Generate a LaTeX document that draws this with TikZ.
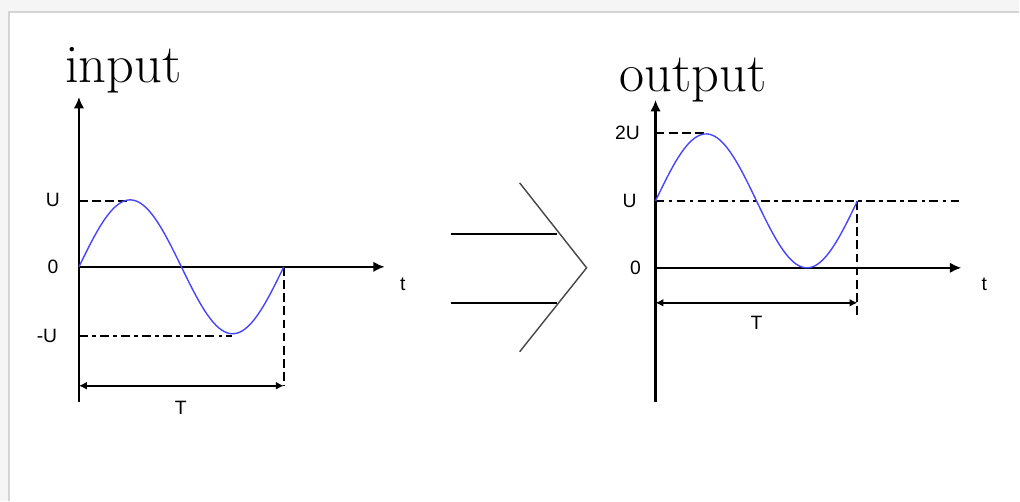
\documentclass[tikz,border=0pt]{standalone}
\usepackage{fontspec}
\newfontfamily\labelfont{Liberation Sans}
\usepackage{tikz}
\usetikzlibrary{arrows.meta, positioning}
\definecolor{pagegray}{RGB}{245,245,245}
\definecolor{framegray}{RGB}{212,212,212}
\definecolor{wave}{RGB}{70,70,255}
\definecolor{chevron}{RGB}{70,70,70}

\begin{document}
\begin{tikzpicture}[x=0.02cm, y=-0.02cm,
    axisline/.style={line width=1.3pt, -{Latex[length=6.5pt,width=6pt]}},
    refline/.style={line width=1.1pt, dash pattern=on 5pt off 2.5pt},
    dotline/.style={line width=1.1pt, dash pattern=on 5pt off 2.5pt on 2pt off 2.5pt},
    span/.style={line width=1.3pt, {Latex[length=4.5pt,width=4.5pt]}-{Latex[length=4.5pt,width=4.5pt]}},
    sinewave/.style={wave, line width=0.8pt},
    lbl/.style={font=\labelfont\fontsize{11}{13}\selectfont, inner sep=0pt},
    title/.style={font=\fontsize{31}{36}\selectfont, inner sep=0pt, anchor=base west}]
  % page and frame
  \fill[pagegray] (0,0) rectangle (1020,501);
  \fill[white] (9,12) rectangle (1020,501);
  \draw[framegray, line width=0.8pt] (9,501) -- (9,12) -- (1020,12);

  % input
  \node[title] (intitle) at (65,83) {input};
  \coordinate (inO) at (79,267);
  \coordinate (inTop) at (79,97);
  \coordinate (inBot) at (79,402);
  \coordinate (inX) at (385,267);
  \coordinate (inUa) at (79,201);
  \coordinate (inPk) at (130,201);
  \coordinate (inNa) at (79,336);
  \coordinate (inTr) at (232,336);
  \coordinate (inEnd) at (284,267);
  \coordinate (inTa) at (79,386);
  \coordinate (inTb) at (284,386);
  \draw[line width=1.3pt] (inBot) -- (inO);
  \draw[axisline] (inO) -- (inTop);
  \draw[axisline] (inO) -- (inX);
  \draw[refline] (inUa) -- (inPk);
  \draw[dotline] (inNa) -- (inTr);
  \draw[refline] (inEnd) -- (inTb);
  \draw[span] (inTa) -- (inTb);
  \draw[sinewave] plot[domain=0:360, samples=80] ({79+\x/360*205},{267-67*sin(\x)});
  \node[lbl] (inU) at (53,200) {U};
  \node[lbl] (inZero) at (53,267) {0};
  \node[lbl] (inMinusU) at (47,336) {-U};
  \node[lbl] (inT) at (403,285) {t};
  \node[lbl] (inPeriod) at (181,408) {T};

  % arrow between
  \coordinate (midA) at (451,234);
  \coordinate (midB) at (557,234);
  \coordinate (midC) at (451,303);
  \coordinate (midD) at (557,303);
  \coordinate (chTop) at (520,183);
  \coordinate (chTip) at (587,268);
  \coordinate (chBot) at (520,352);
  \draw[line width=1.3pt] (midA) -- (midB);
  \draw[line width=1.3pt] (midC) -- (midD);
  \draw[chevron, line width=0.8pt] (chTop) -- (chTip) -- (chBot);

  % output
  \node[title] (outtitle) at (620,92) {output};
  \coordinate (outO) at (656,268);
  \coordinate (outTop) at (656,100);
  \coordinate (outBot) at (656,402);
  \coordinate (outX) at (962,268);
  \coordinate (outDa) at (656,133);
  \coordinate (outPk) at (708,133);
  \coordinate (outUa) at (656,201);
  \coordinate (outUb) at (962,201);
  \coordinate (outEnd) at (858,201);
  \coordinate (outDrop) at (858,317);
  \coordinate (outTa) at (656,303);
  \coordinate (outTb) at (858,303);
  \draw[line width=1.3pt] (outBot) -- (outO);
  \draw[axisline] (outO) -- (outTop);
  \draw[axisline] (outO) -- (outX);
  \draw[refline] (outDa) -- (outPk);
  \draw[dotline] (outUa) -- (outUb);
  \draw[refline] (outEnd) -- (outDrop);
  \draw[span] (outTa) -- (outTb);
  \draw[sinewave] plot[domain=0:360, samples=80] ({656+\x/360*202},{201-67*sin(\x)});
  \node[lbl] (outTwoU) at (628,133) {2U};
  \node[lbl] (outU) at (630,201) {U};
  \node[lbl] (outZero) at (636,268) {0};
  \node[lbl] (outT) at (985,285) {t};
  \node[lbl] (outPeriod) at (757,323) {T};
\end{tikzpicture}
\end{document}
